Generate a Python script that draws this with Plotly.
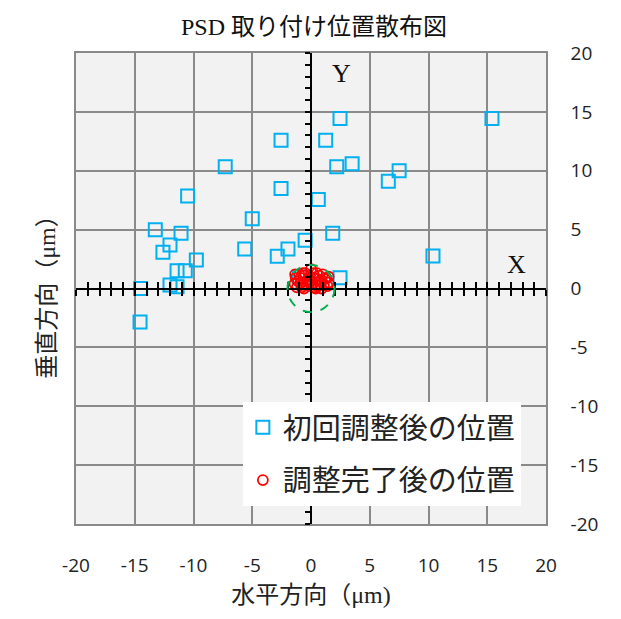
import plotly.graph_objects as go

# ---- data (µm) ----
initial_x = [-2.55, -7.3, -2.55, -10.5, -5.0, -13.25, -11.06, -12.0, -12.6, -5.64,
             -1.96, -2.87, -0.5, -9.76, -11.4, -10.7, -14.5, -12.0, -11.4, -14.55,
             2.47, 15.4, 1.25, 2.19, 3.5, 7.5, 6.58, 0.62, 1.85, 10.38, 2.47, -1.0]
initial_y = [12.6, 10.35, 8.5, 7.85, 5.93, 5.0, 4.69, 3.7, 3.08, 3.36,
             3.36, 2.73, 4.1, 2.42, 1.5, 1.5, 0.0, 0.3, 0.15, -2.85,
             14.43, 14.43, 12.6, 10.35, 10.6, 10.0, 9.1, 7.55, 4.69, 2.76, 0.92, 1.0]

final_x = [-1.4, -1.3, -1.2, -1.1, -0.9, -0.7, -0.5, -0.3, -0.1, 0.1, 0.3, 0.5, 0.7, 0.9,
           1.1, 1.3, 1.5, -1.0, -0.6, -0.2, 0.2, 0.6, 1.0, 1.4, -0.8, -0.4, 0.0, 0.4,
           0.8, 1.2, -0.1, 0.3, -0.5, -1.35, -0.9, 0.5, 1.5, -0.2, 0.9, -0.7]
final_y = [0.4, 0.9, 0.1, 0.6, 0.9, 0.3, 1.1, 0.6, 1.0, 0.4, 0.9, 0.2, 1.1, 0.7,
           0.3, 0.9, 0.5, 1.2, 0.0, 0.2, 1.3, 0.8, 1.2, 0.2, 0.1, 0.6, 1.65, 0.0,
           0.3, 0.8, 0.5, 0.1, 1.3, 1.2, 0.5, 1.3, 1.0, 0.8, 0.0, 1.3]

tolerance_radius = 2
axis_range = [-20, 20]
tick_vals = [-20, -15, -10, -5, 0, 5, 10, 15, 20]
tick_text = [str(v) for v in tick_vals]

SERIF = "Liberation Serif, Noto Sans CJK JP, serif"
SANS = "Open Sans, Noto Sans, sans-serif"

W, H = 613, 611
L, T, PW, PH = 68, 45, 470, 471

fig = go.Figure()
fig.add_trace(go.Scatter(
    x=initial_x, y=initial_y, mode="markers", name="初回調整後の位置",
    legendgroup="a",
    marker=dict(symbol="square-open", size=13, color="#00b0f0", line=dict(width=2, color="#00b0f0")),
))
fig.add_trace(go.Scatter(
    x=final_x, y=final_y, mode="markers", name="調整完了後の位置",
    legendgroup="b",
    marker=dict(symbol="circle-open", size=10, color="#ff0000", line=dict(width=1.8, color="#ff0000")),
))
# helper traces so the crossing axes are rendered
fig.add_trace(go.Scatter(x=[], y=[], xaxis="x2", yaxis="y", showlegend=False, hoverinfo="skip"))
fig.add_trace(go.Scatter(x=[], y=[], xaxis="x3", yaxis="y", showlegend=False, hoverinfo="skip"))
fig.add_trace(go.Scatter(x=[], y=[], xaxis="x", yaxis="y2", showlegend=False, hoverinfo="skip"))

grid = "#8a8a8a"
common = dict(range=axis_range, showgrid=True, gridcolor=grid, gridwidth=1.5,
              zeroline=False, showline=True, mirror=True, linecolor=grid, linewidth=1.5,
              tickvals=tick_vals, ticktext=tick_text, ticks="",
              tickfont=dict(family=SANS, size=19, color="#222"))

cross = dict(range=axis_range, showgrid=False, zeroline=False, showticklabels=False,
             showline=True, linecolor="black", linewidth=2, dtick=1, tick0=0,
             tickcolor="black", tickwidth=1.5, anchor="free", position=0.5)

fig.update_layout(
    width=W, height=H,
    margin=dict(l=L, r=W - L - PW, t=T, b=H - T - PH),
    paper_bgcolor="white", plot_bgcolor="#f2f2f2",
    title=dict(text="PSD 取り付け位置散布図", x=(306 - 0) / W, y=1 - 19 / H, xanchor="center", yanchor="middle",
               font=dict(family=SERIF, size=24, color="#111")),
    xaxis=dict(**common, ticklabelstandoff=23,
               title=dict(text="水平方向（μm)", font=dict(family=SERIF, size=24, color="#222"), standoff=10)),
    yaxis=dict(**common, side="right", ticklabelstandoff=19),
    xaxis2=dict(**cross, overlaying="x", ticks="outside", ticklen=6),
    xaxis3=dict(**cross, overlaying="x", ticks="inside", ticklen=6),
    yaxis2=dict(**cross, overlaying="y", side="left", ticks="outside", ticklen=5),
    legend=dict(x=0.355, y=0.259, xanchor="left", yanchor="top", bgcolor="white",
                font=dict(family=SERIF, size=29, color="#222"), tracegroupgap=12),
    showlegend=True,
)

fig.add_shape(type="circle", xref="x", yref="y",
              x0=-tolerance_radius, x1=tolerance_radius, y0=-tolerance_radius, y1=tolerance_radius,
              line=dict(color="#00b050", width=2, dash="dash"), layer="above")

# chart-area border (left/top visible)
fig.add_shape(type="rect", xref="paper", yref="paper",
              x0=(-1 - L) / PW, x1=1.3, y0=-0.3, y1=(PH + T + 4) / PH,
              line=dict(color="#8c8c8c", width=2), layer="below")

fig.add_annotation(text="垂直方向（μm）", xref="paper", yref="paper", x=(39 - L) / PW, y=0.495,
                   xanchor="center", yanchor="middle",
                   textangle=-90, showarrow=False, font=dict(family=SERIF, size=24, color="#222"))
fig.add_annotation(text="Y", xref="x", yref="y", x=2.6, y=18.3, showarrow=False,
                   font=dict(family=SERIF, size=26, color="#111"))
fig.add_annotation(text="X", xref="x", yref="y", x=17.5, y=2.0, showarrow=False,
                   font=dict(family=SERIF, size=26, color="#111"))

fig.write_html("out.html")
